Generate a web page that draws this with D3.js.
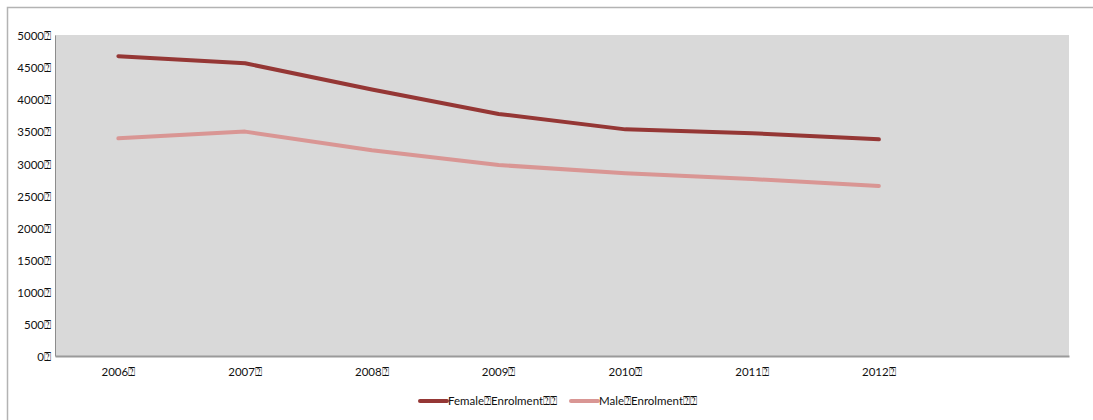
<!DOCTYPE html>
<html><head><meta charset="utf-8">
<script src="https://cdn.jsdelivr.net/npm/d3@7"></script>
<style>
html,body{margin:0;padding:0;background:#fff;}
svg{display:block;}
text{font-family:Lato,"Open Sans",sans-serif;font-size:11.5px;fill:#111;}
</style></head>
<body>
<script>
const categories = ["2006","2007","2008","2009","2010","2011","2012",""];
const femaleValues = [4670, 4560, 4150, 3770, 3530, 3470, 3375];
const maleValues = [3390, 3495, 3205, 2975, 2845, 2757, 2648];
const yTicks = [0,500,1000,1500,2000,2500,3000,3500,4000,4500,5000];
const seriesNames = ["Female\u2370Enrolment\u2370\u2370", "Male\u2370Enrolment\u2370\u2370"];
const seriesColors = ["#953735", "#D99694"];
const mark = "\u2370";

const W = 1093, H = 420;
const svg = d3.select("body").append("svg").attr("width", W).attr("height", H);

// outer border
svg.append("path").attr("d", `M7.5,${H+2} V7.5 H${W+2}`).attr("fill","none").attr("stroke","#b3b3b3").attr("stroke-width",1.5);

const m = {left:55, right:1069, top:35, bottom:356};
const x = d3.scaleBand().domain(categories).range([m.left, m.right]);
const y = d3.scaleLinear().domain([0,5000]).range([m.bottom, m.top]);

svg.append("rect").attr("x", m.left).attr("y", m.top).attr("width", m.right-m.left).attr("height", m.bottom-m.top).attr("fill","#d9d9d9");

// y axis
const yAxis = d3.axisLeft(y).tickValues(yTicks).tickSize(0).tickPadding(4).tickFormat(d => d + mark);
const gy = svg.append("g").attr("transform", `translate(${m.left},0)`).call(yAxis);
gy.select(".domain").attr("stroke","#8c8c8c").attr("stroke-width",1);
gy.selectAll("text").style("font-size","11.5px").attr("fill","#111").attr("dy","0.4em");

// x axis
const xAxis = d3.axisBottom(x).tickSize(0).tickPadding(12).tickFormat(d => d ? d + mark : "");
const gx = svg.append("g").attr("transform", `translate(0,${m.bottom})`).call(xAxis);
gx.select(".domain").attr("stroke","#9a9a9a").attr("stroke-width",2);
gx.selectAll("text").style("font-size","11.5px").attr("fill","#111");

const line = d3.line().x((d,i) => x(categories[i]) + x.bandwidth()/2).y(d => y(d));
[femaleValues, maleValues].forEach((vals, k) => {
  svg.append("path").datum(vals).attr("d", line).attr("fill","none")
    .attr("stroke", seriesColors[k]).attr("stroke-width", 4)
    .attr("stroke-linejoin","round").attr("stroke-linecap","round");
});

// legend
const legendX = [420, 571];
seriesNames.forEach((name, k) => {
  const g = svg.append("g").attr("transform", `translate(${legendX[k]},401)`);
  g.append("line").attr("x1",0).attr("x2",27).attr("y1",0).attr("y2",0)
    .attr("stroke", seriesColors[k]).attr("stroke-width",4).attr("stroke-linecap","round");
  g.append("text").attr("x",28).attr("y",4).style("font-size","11.5px").text(name);
});
</script>
</body></html>
